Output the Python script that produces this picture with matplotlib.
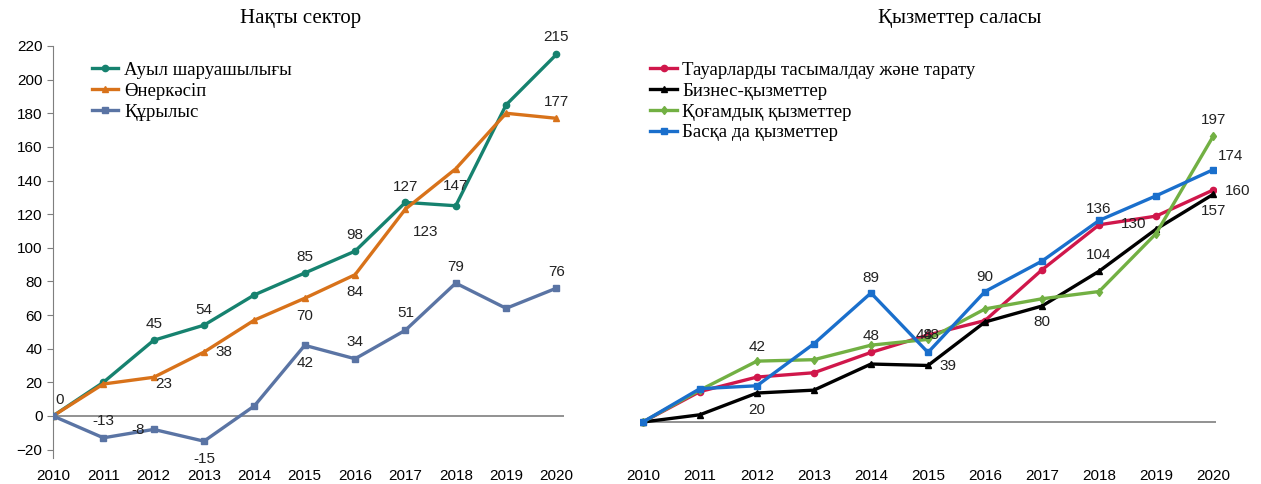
import matplotlib
matplotlib.use("Agg")
import matplotlib.pyplot as plt

# Data
YEARS = [2010, 2011, 2012, 2013, 2014, 2015, 2016, 2017, 2018, 2019, 2020]

LEFT_TITLE = "Нақты сектор"
LEFT_NAMES = ["Ауыл шаруашылығы", "Өнеркәсіп", "Құрылыс"]
AGRI = [0, 20, 45, 54, 72, 85, 98, 127, 125, 185, 215]
INDUSTRY = [0, 19, 23, 38, 57, 70, 84, 123, 147, 180, 177]
CONSTR = [0, -13, -8, -15, 6, 42, 34, 51, 79, 64, 76]
Y_TICKS_LEFT = [-20, 0, 20, 40, 60, 80, 100, 120, 140, 160, 180, 200, 220]

RIGHT_TITLE = "Қызметтер саласы"
RIGHT_NAMES = ["Тауарларды тасымалдау және тарату", "Бизнес-қызметтер",
               "Қоғамдық қызметтер", "Басқа да қызметтер"]
TRADE = [0, 21, 31, 34, 48, 60, 70, 105, 136, 142, 160]
BUSINESS = [0, 5, 20, 22, 40, 39, 69, 80, 104, 133, 157]
PUBLIC = [0, 22, 42, 43, 53, 57, 78, 85, 90, 130, 197]
OTHER = [0, 23, 25, 54, 89, 48, 90, 111, 139, 156, 174]

# labels: (series, year index, text)
LEFT_LABELS = [
    (0, 0, "0"), (2, 1, "-13"), (2, 2, "-8"), (0, 2, "45"), (1, 2, "23"),
    (0, 3, "54"), (1, 3, "38"), (2, 3, "-15"), (0, 5, "85"), (1, 5, "70"),
    (2, 5, "42"), (0, 6, "98"), (1, 6, "84"), (2, 6, "34"), (0, 7, "127"),
    (1, 7, "123"), (2, 7, "51"), (1, 8, "147"), (2, 8, "79"), (0, 10, "215"),
    (1, 10, "177"), (2, 10, "76"),
]
RIGHT_LABELS = [
    (2, 2, "42"), (1, 2, "20"), (3, 4, "89"), (0, 4, "48"), (3, 5, "48"),
    (3, 5, "48"), (1, 5, "39"), (3, 6, "90"), (1, 7, "80"), (1, 8, "104"),
    (0, 8, "136"), (2, 9, "130"), (2, 10, "197"), (3, 10, "174"),
    (0, 10, "160"), (1, 10, "157"),
]
# offsets in pixels for each label (same order as above)
LEFT_OFFS = [(7, 16), (0, 17), (-16, -1), (0, 16), (10, -7), (0, 15), (20, 0),
             (0, -18), (0, 16), (0, -18), (0, -18), (0, 16), (0, -17), (0, 17),
             (0, 15), (20, -23), (0, 17), (0, -17), (0, 16), (0, 17), (0, 16),
             (0, 16)]
RIGHT_OFFS = [(0, 14), (0, -17), (0, 15), (0, 16), (-4, 17), (3, 17), (20, -1),
              (0, 15), (0, -16), (0, 16), (0, 16), (-22, 10), (0, 16), (17, 14),
              (24, -1), (0, -17)]

LEFT_COLORS = ["#16826f", "#d8721a", "#5a74a4"]
LEFT_MARKERS = ["o", "^", "s"]
RIGHT_COLORS = ["#d0174b", "#000000", "#72b043", "#1a6fcc"]
RIGHT_MARKERS = ["o", "^", "d", "s"]

SERIF = ["Liberation Serif", "DejaVu Serif"]
SANS = ["Liberation Sans", "DejaVu Sans"]

plt.rcParams["font.family"] = SANS

fig = plt.figure(figsize=(12.61, 4.84), dpi=100)
W, H = 1261, 484


def px_axes(x0, y0, x1, y1):
    return fig.add_axes([x0 / W, 1 - y1 / H, (x1 - x0) / W, (y1 - y0) / H])


def draw(ax, series, colors, markers, names, labels, offs):
    for s, c, m, n in zip(series, colors, markers, names):
        ax.plot(YEARS, s, color=c, marker=m, markersize=4.5, linewidth=2.4,
                label=n, zorder=3)
    for (si, yi, txt), (dx, dy) in zip(labels, offs):
        ax.annotate(txt, (YEARS[yi], series[si][yi]), xytext=(dx, dy),
                    textcoords="offset pixels", ha="center", va="center",
                    fontsize=11, color="#222222", zorder=4)
    ax.axhline(0, color="#7f7f7f", linewidth=1.2, zorder=2)
    for sp in ["top", "right", "bottom"]:
        ax.spines[sp].set_visible(False)
    ax.set_xticks(YEARS)
    ax.set_xticklabels([str(y) for y in YEARS], fontsize=11)
    ax.tick_params(axis="x", length=0, pad=8)
    leg = ax.legend(loc="upper left", frameon=False, handlelength=1.4,
                    handletextpad=0.3, labelspacing=0.2, borderaxespad=0,
                    prop={"family": SERIF, "size": 13.5})
    return leg


# left chart
ax1 = px_axes(53, 46, 564, 458)
draw(ax1, [AGRI, INDUSTRY, CONSTR], LEFT_COLORS, LEFT_MARKERS, LEFT_NAMES,
     LEFT_LABELS, LEFT_OFFS)
ax1.set_xlim(2010, 2020.15)
ax1.set_ylim(-25, 220)
ax1.set_yticks(Y_TICKS_LEFT)
ax1.tick_params(axis="y", labelsize=11, length=4, color="#7f7f7f")
ax1.spines["left"].set_color("#7f7f7f")
ax1.legend_.set_bbox_to_anchor((0.062, 0.98))
fig.text(301 / W, 1 - 18 / H, LEFT_TITLE, ha="center", va="center",
         family=SERIF, fontsize=15)

# right chart
ax2 = px_axes(640, 46, 1216, 458)
draw(ax2, [TRADE, BUSINESS, PUBLIC, OTHER], RIGHT_COLORS, RIGHT_MARKERS,
     RIGHT_NAMES, RIGHT_LABELS, RIGHT_OFFS)
ax2.set_xlim(2009.95, 2020.05)
ax2.set_ylim(-24.8, 259.3)
ax2.spines["left"].set_visible(False)
ax2.set_yticks([])
ax2.legend_.set_bbox_to_anchor((0.005, 0.98))
fig.text(960 / W, 1 - 18 / H, RIGHT_TITLE, ha="center", va="center",
         family=SERIF, fontsize=15)

fig.savefig("out.png", dpi=100)
